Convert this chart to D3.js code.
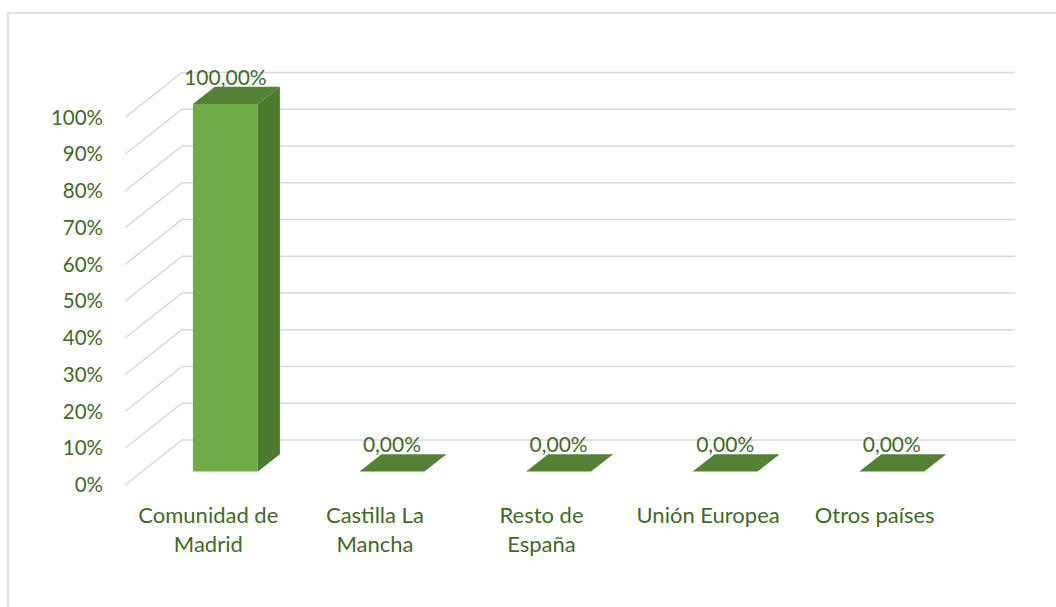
<!DOCTYPE html>
<html>
<head>
<meta charset="utf-8">
<script src="https://cdn.jsdelivr.net/npm/d3@7"></script>
<style>
  body { margin: 0; background: #fff; }
  text { font-family: Lato, "Open Sans", sans-serif; fill: #3f6a26; }
</style>
</head>
<body>
<svg id="chart" width="1056" height="607"></svg>
<script>
// data
var categories = ["Comunidad de Madrid", "Castilla La Mancha", "Resto de España", "Unión Europea", "Otros países"];
var values = [1.00, 0, 0, 0, 0];
var catLabels = [["Comunidad de", "Madrid"], ["Castilla La", "Mancha"], ["Resto de", "España"], ["Unión Europea"], ["Otros países"]];
var yTicks = [0, 0.1, 0.2, 0.3, 0.4, 0.5, 0.6, 0.7, 0.8, 0.9, 1.0];

var svg = d3.select("#chart");

// 3d box: front plane + depth offset
var depthX = 57, depthY = 45;
var x = d3.scaleBand().domain(categories).range([125, 958]);
var y = d3.scaleLinear().domain([0, 1]).range([485, 117.5]);
var zFront = 0.3, zBack = 0.686, barW = 65;

function proj(px, py, z) { return [px + z * depthX, py - z * depthY]; }

var pctAxis = d3.format(".0%");
var esLocale = d3.formatLocale({ decimal: ",", thousands: ".", grouping: [3], currency: ["", "€"] });
var pctLabel = esLocale.format(".2%");

// chart frame (only top & left visible)
svg.append("path")
    .attr("d", "M8,607 L8,13 L1056,13")
    .attr("fill", "none").attr("stroke", "#d9d9d9").attr("stroke-width", 1.5);

// gridlines: side wall diagonals + back wall lines
var grid = svg.append("g").attr("stroke", "#d9d9d9").attr("stroke-width", 1.5).attr("fill", "none");
yTicks.forEach(function(t) {
    var a = proj(x.range()[0], y(t), 0),
        b = proj(x.range()[0], y(t), 1),
        c = proj(x.range()[1], y(t), 1);
    grid.append("path").attr("d", "M" + a + "L" + b + "L" + c);
});

// y axis labels
svg.append("g").selectAll("text")
    .data(yTicks).enter().append("text")
    .attr("x", 103).attr("y", function(d) { return y(d); })
    .attr("dy", "0.35em")
    .attr("text-anchor", "end")
    .style("font-size", "20.5px")
    .text(pctAxis);

// bars
var bars = svg.append("g").selectAll("g")
    .data(values).enter().append("g");

function barGeom(d, i) {
    var cx = x(categories[i]) + x.bandwidth() / 2;
    var l = cx - barW / 2, r = cx + barW / 2;
    return { l: l, r: r, yb: y(0), yt: y(d) };
}

function poly(pts) { return "M" + pts.join("L") + "Z"; }

// side face
bars.append("path")
    .attr("fill", "#4a7a2b")
    .attr("d", function(d, i) {
        var g = barGeom(d, i);
        return poly([proj(g.r, g.yb, zFront), proj(g.r, g.yb, zBack), proj(g.r, g.yt, zBack), proj(g.r, g.yt, zFront)]);
    });
// top face
bars.append("path")
    .attr("fill", "#548235")
    .attr("d", function(d, i) {
        var g = barGeom(d, i);
        return poly([proj(g.l, g.yt, zFront), proj(g.r, g.yt, zFront), proj(g.r, g.yt, zBack), proj(g.l, g.yt, zBack)]);
    });
// front face
bars.append("path")
    .attr("fill", "#70ad47")
    .attr("d", function(d, i) {
        var g = barGeom(d, i);
        return poly([proj(g.l, g.yb, zFront), proj(g.r, g.yb, zFront), proj(g.r, g.yt, zFront), proj(g.l, g.yt, zFront)]);
    });

// data labels
bars.append("text")
    .attr("x", function(d, i) { var g = barGeom(d, i); return proj((g.l + g.r) / 2, g.yt, zFront)[0]; })
    .attr("y", function(d, i) { var g = barGeom(d, i); return proj(g.l, g.yt, zBack)[1] - 2; })
    .attr("text-anchor", "middle")
    .style("font-size", "21px")
    .text(function(d) { return pctLabel(d); });

// category labels
var cats = svg.append("g").selectAll("text")
    .data(catLabels).enter().append("text")
    .attr("text-anchor", "middle")
    .style("font-size", "22px")
    .attr("transform", function(d, i) {
        return "translate(" + (x(categories[i]) + x.bandwidth() / 2) + ",523)";
    });
cats.selectAll("tspan")
    .data(function(d) { return d; }).enter().append("tspan")
    .attr("x", 0)
    .attr("y", function(d, j) { return j * 29; })
    .text(function(d) { return d; });
</script>
</body>
</html>
